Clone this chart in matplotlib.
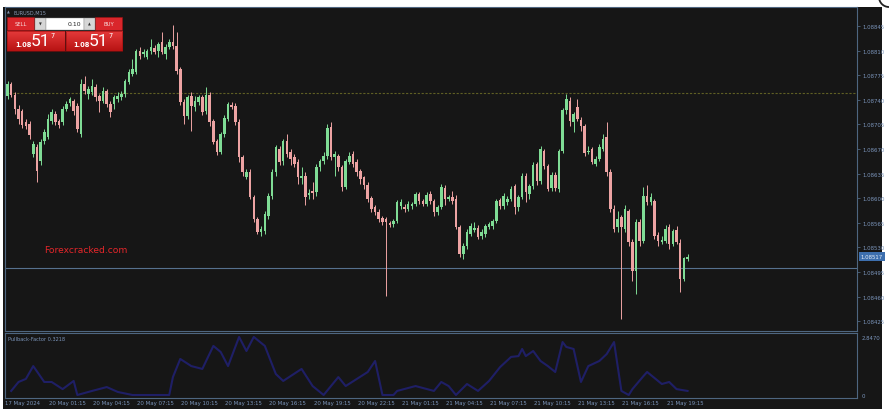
import matplotlib
matplotlib.use('Agg')
import matplotlib.pyplot as plt
from matplotlib.patches import Rectangle, Arc
from matplotlib.colors import LinearSegmentedColormap
import numpy as np

# ---------------- data ----------------
opens = [1.08745,1.08762,1.08747,1.08727,1.08724,1.08708,1.08706,1.08663,1.08673,1.08653,
         1.08681,1.08687,1.08710,1.08720,1.08710,1.08708,1.08727,1.08735,1.08738,1.08731,
         1.08691,1.08762,1.08748,1.08751,1.08758,1.08745,1.08738,1.08753,1.08734,1.08734,
         1.08741,1.08744,1.08748,1.08765,1.08777,1.08780,1.08809,1.08805,1.08801,1.08809,
         1.08814,1.08809,1.08822,1.08805,1.08815,1.08822,1.08817,1.08784,1.08737,1.08717,
         1.08745,1.08730,1.08737,1.08744,1.08724,1.08747,1.08710,1.08681,1.08666,1.08691,
         1.08713,1.08733,1.08731,1.08708,1.08659,1.08630,1.08637,1.08602,1.08570,1.08552,
         1.08553,1.08575,1.08603,1.08637,1.08670,1.08653,1.08681,1.08666,1.08659,1.08652,
         1.08629,1.08632,1.08605,1.08610,1.08609,1.08644,1.08653,1.08660,1.08701,1.08659,
         1.08660,1.08644,1.08616,1.08652,1.08663,1.08652,1.08639,1.08630,1.08619,1.08600,
         1.08587,1.08580,1.08572,1.08570,1.08565,1.08563,1.08568,1.08589,1.08587,1.08585,
         1.08589,1.08592,1.08606,1.08596,1.08592,1.08606,1.08596,1.08580,1.08587,1.08615,
         1.08599,1.08602,1.08599,1.08559,1.08521,1.08532,1.08549,1.08555,1.08558,1.08546,
         1.08549,1.08559,1.08560,1.08568,1.08597,1.08589,1.08595,1.08599,1.08617,1.08587,
         1.08602,1.08632,1.08606,1.08617,1.08649,1.08624,1.08667,1.08646,1.08615,1.08633,
         1.08613,1.08667,1.08725,1.08738,1.08708,1.08730,1.08711,1.08703,1.08666,1.08670,
         1.08649,1.08656,1.08670,1.08687,1.08637,1.08585,1.08559,1.08573,1.08556,1.08582,
         1.08538,1.08496,1.08566,1.08539,1.08603,1.08595,1.08596,1.08548,1.08538,1.08539,
         1.08559,1.08535,1.08555,1.08536,1.08485,1.08514]
closes = [1.08762,1.08747,1.08727,1.08713,1.08704,1.08703,1.08690,1.08677,1.08639,1.08680,
          1.08694,1.08713,1.08723,1.08708,1.08704,1.08727,1.08734,1.08741,1.08724,1.08698,
          1.08762,1.08753,1.08755,1.08760,1.08744,1.08738,1.08753,1.08734,1.08723,1.08744,
          1.08745,1.08748,1.08767,1.08780,1.08784,1.08809,1.08802,1.08808,1.08809,1.08815,
          1.08808,1.08819,1.08808,1.08815,1.08822,1.08817,1.08781,1.08737,1.08717,1.08744,
          1.08731,1.08738,1.08744,1.08723,1.08747,1.08708,1.08680,1.08666,1.08691,1.08714,
          1.08734,1.08730,1.08708,1.08659,1.08637,1.08637,1.08602,1.08570,1.08552,1.08556,
          1.08578,1.08603,1.08637,1.08673,1.08652,1.08681,1.08663,1.08656,1.08649,1.08630,
          1.08632,1.08602,1.08607,1.08607,1.08644,1.08653,1.08660,1.08700,1.08659,1.08663,
          1.08644,1.08616,1.08653,1.08660,1.08649,1.08637,1.08627,1.08619,1.08599,1.08585,
          1.08580,1.08570,1.08566,1.08566,1.08562,1.08568,1.08595,1.08595,1.08585,1.08592,
          1.08592,1.08606,1.08596,1.08592,1.08605,1.08596,1.08580,1.08587,1.08616,1.08599,
          1.08602,1.08596,1.08559,1.08521,1.08532,1.08552,1.08560,1.08558,1.08545,1.08552,
          1.08560,1.08563,1.08568,1.08596,1.08589,1.08603,1.08599,1.08613,1.08587,1.08602,
          1.08632,1.08609,1.08617,1.08647,1.08624,1.08670,1.08646,1.08613,1.08633,1.08615,
          1.08667,1.08725,1.08741,1.08710,1.08720,1.08713,1.08703,1.08664,1.08667,1.08652,
          1.08656,1.08673,1.08684,1.08637,1.08585,1.08556,1.08570,1.08559,1.08585,1.08538,
          1.08496,1.08566,1.08539,1.08603,1.08595,1.08602,1.08546,1.08539,1.08541,1.08556,
          1.08535,1.08553,1.08538,1.08485,1.08515,1.08516]
highs = [1.08767,1.08765,1.08751,1.08733,1.08727,1.08713,1.08710,1.08681,1.08677,1.08684,
         1.08698,1.08720,1.08727,1.08724,1.08713,1.08731,1.08738,1.08744,1.08741,1.08735,
         1.08770,1.08774,1.08760,1.08770,1.08762,1.08748,1.08758,1.08755,1.08738,1.08747,
         1.08751,1.08753,1.08770,1.08784,1.08798,1.08812,1.08815,1.08812,1.08812,1.08826,
         1.08818,1.08822,1.08836,1.08819,1.08826,1.08846,1.08836,1.08787,1.08741,1.08747,
         1.08751,1.08745,1.08747,1.08747,1.08758,1.08751,1.08713,1.08684,1.08694,1.08718,
         1.08737,1.08737,1.08735,1.08713,1.08661,1.08642,1.08642,1.08605,1.08573,1.08560,
         1.08582,1.08607,1.08642,1.08676,1.08674,1.08684,1.08691,1.08670,1.08663,1.08656,
         1.08644,1.08637,1.08613,1.08623,1.08649,1.08656,1.08666,1.08706,1.08708,1.08667,
         1.08663,1.08647,1.08656,1.08666,1.08667,1.08656,1.08642,1.08632,1.08623,1.08603,
         1.08590,1.08585,1.08575,1.08573,1.08568,1.08570,1.08597,1.08599,1.08592,1.08596,
         1.08595,1.08609,1.08609,1.08599,1.08609,1.08610,1.08599,1.08590,1.08620,1.08619,
         1.08605,1.08610,1.08605,1.08562,1.08536,1.08556,1.08565,1.08566,1.08562,1.08556,
         1.08563,1.08566,1.08570,1.08599,1.08600,1.08607,1.08603,1.08617,1.08620,1.08605,
         1.08636,1.08636,1.08620,1.08652,1.08652,1.08674,1.08670,1.08649,1.08637,1.08637,
         1.08670,1.08728,1.08748,1.08744,1.08723,1.08741,1.08716,1.08706,1.08674,1.08673,
         1.08660,1.08677,1.08691,1.08708,1.08642,1.08590,1.08582,1.08576,1.08590,1.08585,
         1.08542,1.08570,1.08570,1.08616,1.08619,1.08607,1.08599,1.08552,1.08546,1.08562,
         1.08563,1.08556,1.08560,1.08542,1.08516,1.08521]
lows = [1.08741,1.08744,1.08720,1.08706,1.08700,1.08698,1.08684,1.08659,1.08623,1.08647,
        1.08677,1.08684,1.08706,1.08704,1.08700,1.08704,1.08724,1.08731,1.08718,1.08694,
        1.08687,1.08748,1.08741,1.08747,1.08738,1.08723,1.08735,1.08730,1.08716,1.08727,
        1.08737,1.08740,1.08744,1.08762,1.08774,1.08777,1.08798,1.08801,1.08798,1.08805,
        1.08805,1.08801,1.08805,1.08798,1.08812,1.08812,1.08777,1.08733,1.08706,1.08713,
        1.08696,1.08724,1.08733,1.08718,1.08720,1.08703,1.08677,1.08661,1.08663,1.08687,
        1.08710,1.08727,1.08704,1.08652,1.08632,1.08627,1.08599,1.08566,1.08549,1.08546,
        1.08549,1.08570,1.08599,1.08632,1.08647,1.08647,1.08659,1.08647,1.08644,1.08620,
        1.08620,1.08590,1.08599,1.08599,1.08603,1.08639,1.08649,1.08656,1.08654,1.08632,
        1.08639,1.08610,1.08613,1.08649,1.08644,1.08632,1.08620,1.08613,1.08595,1.08580,
        1.08576,1.08566,1.08562,1.08461,1.08559,1.08559,1.08565,1.08585,1.08580,1.08582,
        1.08585,1.08589,1.08592,1.08589,1.08589,1.08592,1.08575,1.08576,1.08585,1.08590,
        1.08596,1.08592,1.08556,1.08516,1.08514,1.08528,1.08546,1.08552,1.08542,1.08542,
        1.08545,1.08556,1.08556,1.08565,1.08585,1.08585,1.08590,1.08596,1.08578,1.08582,
        1.08599,1.08595,1.08599,1.08613,1.08619,1.08620,1.08642,1.08610,1.08610,1.08610,
        1.08609,1.08664,1.08720,1.08703,1.08694,1.08710,1.08696,1.08660,1.08663,1.08649,
        1.08646,1.08653,1.08667,1.08632,1.08580,1.08552,1.08552,1.08428,1.08552,1.08532,
        1.08482,1.08464,1.08532,1.08536,1.08590,1.08590,1.08542,1.08532,1.08535,1.08536,
        1.08528,1.08532,1.08535,1.08467,1.08482,1.08511]

price_ticks = [1.08845, 1.08810, 1.08775, 1.08740, 1.08705, 1.08670, 1.08635,
               1.08600, 1.08565, 1.08530, 1.08495, 1.08460, 1.08425]
level_dotted = 1.08750
level_solid = 1.08501
current_price = 1.08517

time_label_idx = [0, 11, 23, 35, 47, 59, 71, 83, 95, 107, 119, 131, 143, 155, 167, 179]
time_labels = ['17 May 2024', '20 May 01:15', '20 May 04:15', '20 May 07:15', '20 May 10:15',
               '20 May 13:15', '20 May 16:15', '20 May 19:15', '20 May 22:15', '21 May 01:15',
               '21 May 04:15', '21 May 07:15', '21 May 10:15', '21 May 13:15', '21 May 16:15',
               '21 May 19:15']

pf_idx = [1,3,5,7,10,12,15,18,19,23,27,30,34,41,44,45,47,50,53,56,58,60,63,65,67,70,73,75,80,83,
          86,90,92,98,100,102,105,106,111,116,118,120,122,125,128,131,134,137,139,140,141,143,145,
          147,149,151,152,154,156,158,161,163,165,167,169,170,173,174,178,180,182,185]
pf_val = [0.20,0.64,0.79,1.42,0.64,0.64,0.29,0.69,0.0,0.20,0.39,0.15,0.0,0.0,0.0,0.88,1.77,1.42,
          1.28,2.41,2.11,1.42,2.85,2.16,2.85,2.41,1.03,0.69,1.28,0.44,0.0,0.88,0.44,1.13,1.67,0.0,
          0.0,0.20,0.44,0.20,0.64,0.44,0.0,0.54,0.20,0.69,1.37,1.87,1.91,2.26,1.91,2.16,1.67,1.42,
          1.13,2.60,2.36,2.26,0.64,1.42,1.67,2.01,2.60,0.20,0.0,0.29,0.93,1.13,0.54,0.64,0.29,0.20]
pf_ticks = [0, 2.847]
pf_tick_labels = ['0', '2.8470']
pf_title = 'Pullback-Factor 0.3218'
symbol_title = 'EURUSD,M15'
watermark = 'Forexcracked.com'

# ---------------- style ----------------
W, H = 889, 414
BG = '#161616'
FRAME = '#4e6680'
TXT = '#7b95bb'
UP = '#7fdc95'
DN = '#eda3a3'
FS = 3.9

fig = plt.figure(figsize=(W / 100, H / 100), dpi=100, facecolor='white')


def rect(l, t, r, b):
    return [l / W, 1 - b / H, (r - l) / W, (b - t) / H]


bg = fig.add_axes([0, 0, 1, 1], zorder=0)
bg.set_xlim(0, W); bg.set_ylim(H, 0); bg.axis('off')
bg.add_patch(Rectangle((3, 8), 879, 402, color=BG, lw=0))

ax = fig.add_axes(rect(5, 8, 857, 332), zorder=1, facecolor=BG)
ai = fig.add_axes(rect(5, 334, 857, 399), zorder=1, facecolor=BG)

xl = (-2.5 / 3.676, (852 - 2.5) / 3.676)
for a in (ax, ai):
    a.set_xlim(*xl)
    for s in a.spines.values():
        s.set_color(FRAME); s.set_linewidth(0.8)
    a.set_xticks([])

# candles
o = np.array(opens); c = np.array(closes)
hi = np.array(highs); lo = np.array(lows)
idx = np.arange(len(o))
up = c >= o
cols = np.where(up, UP, DN)
ax.vlines(idx, lo, hi, colors=cols, lw=0.7, zorder=2)
bot = np.minimum(o, c)
hgt = np.maximum(np.abs(c - o), 0.000012)
ax.bar(idx, hgt, bottom=bot, width=0.7, color=cols, lw=0, zorder=3)

ax.axhline(level_dotted, color='#5f5f24', lw=0.8, ls=(0, (2, 1.5)), zorder=1)
ax.axhline(level_solid, color='#56718e', lw=0.8, zorder=1)

ax.set_ylim(1.08411, 1.08872)
ax.yaxis.tick_right()
ax.set_yticks(price_ticks)
ax.set_yticklabels(['%.5f' % p for p in price_ticks])
ax.tick_params(axis='y', colors=FRAME, labelcolor=TXT, labelsize=FS, length=2.5,
               width=0.6, pad=1.5)

ax.annotate('%.5f' % current_price, xy=(1, current_price), xycoords=('axes fraction', 'data'),
            xytext=(3.5, 0), textcoords='offset pixels', ha='left', va='center',
            fontsize=FS, color='#e6eef8', zorder=6, annotation_clip=False,
            bbox=dict(boxstyle='square,pad=0.35', fc='#3d6fae', ec='none'))

# indicator
ai.plot(pf_idx, pf_val, color='#1f1f66', lw=1.5)
ai.set_ylim(-0.147, 3.044)
ai.yaxis.tick_right()
ai.set_yticks(pf_ticks)
ai.set_yticklabels(pf_tick_labels)
ai.tick_params(axis='y', colors=BG, labelcolor=TXT, labelsize=FS, length=0, pad=3)
ai.text(0.003, 0.92, pf_title, transform=ai.transAxes, fontsize=3.6, color=TXT,
        ha='left', va='center')

for k, lab in zip(time_label_idx, time_labels):
    off = -2.5 if k == 0 else 1
    ai.annotate(lab, xy=(k, 0), xycoords=('data', 'axes fraction'), xytext=(off, -5),
                textcoords='offset pixels', ha='left', va='center', fontsize=FS,
                color=TXT, annotation_clip=False)

# ---------------- overlay decorations ----------------
ov = fig.add_axes([0, 0, 1, 1], zorder=5)
ov.set_xlim(0, W); ov.set_ylim(H, 0); ov.axis('off'); ov.patch.set_alpha(0)

ov.text(7, 13, '▲', fontsize=2.6, color='#8797b0', ha='left', va='center')
ov.text(13, 13, symbol_title, fontsize=3.6, color='#8797b0', ha='left', va='center')

RED = '#d9262b'
ov.add_patch(Rectangle((7, 18), 27, 13, fc=RED, ec='#a01010', lw=0.4))
ov.add_patch(Rectangle((95, 18), 27, 13, fc=RED, ec='#a01010', lw=0.4))
ov.text(20.5, 24.5, 'SELL', fontsize=3.8, color='#f7dede', ha='center', va='center')
ov.text(108.5, 24.5, 'BUY', fontsize=3.8, color='#f7dede', ha='center', va='center')
ov.add_patch(Rectangle((35, 19), 11, 12, fc='#d6d6d6', ec='#888', lw=0.3))
ov.add_patch(Rectangle((46, 19), 38, 12, fc='white', ec='#888', lw=0.3))
ov.add_patch(Rectangle((84, 19), 11, 12, fc='#d6d6d6', ec='#888', lw=0.3))
ov.text(40.5, 25, '▼', fontsize=2.6, color='#333', ha='center', va='center')
ov.text(89.5, 25, '▲', fontsize=2.6, color='#333', ha='center', va='center')
ov.text(81, 25, '0.10', fontsize=4.4, color='#222', ha='right', va='center')

grad = np.linspace(0, 1, 40).reshape(-1, 1)
cm = LinearSegmentedColormap.from_list('r', ['#e43a3a', '#b81313'])
for (l, r) in ((7, 64.5), (65.5, 122)):
    ov.imshow(grad, cmap=cm, extent=(l, r, 52, 32), aspect='auto', zorder=1)
    ov.add_patch(Rectangle((l, 32), r - l, 20, fc='none', ec='#9a0c0c', lw=0.4, zorder=2))
for x0 in (15.5, 73.5):
    ov.text(x0, 45, '1.08', fontsize=4.8, color='white', ha='left', va='center',
            fontweight='bold', zorder=3)
    ov.text(x0 + 15.5, 41.5, '51', fontsize=12.5, color='white', ha='left', va='center',
            family='Roboto', zorder=3)
    ov.text(x0 + 35, 36, '7', fontsize=4.8, color='white', ha='left', va='center',
            zorder=3)
ov.set_xlim(0, W); ov.set_ylim(H, 0)

ov.text(44, 251, watermark, fontsize=6.6, color='#e5262a', ha='left', va='center')

ov.add_patch(Arc((889, -2), 20, 20, theta1=90, theta2=270, color='#222', lw=1.3))

fig.savefig('out.png', dpi=100, facecolor='white')
